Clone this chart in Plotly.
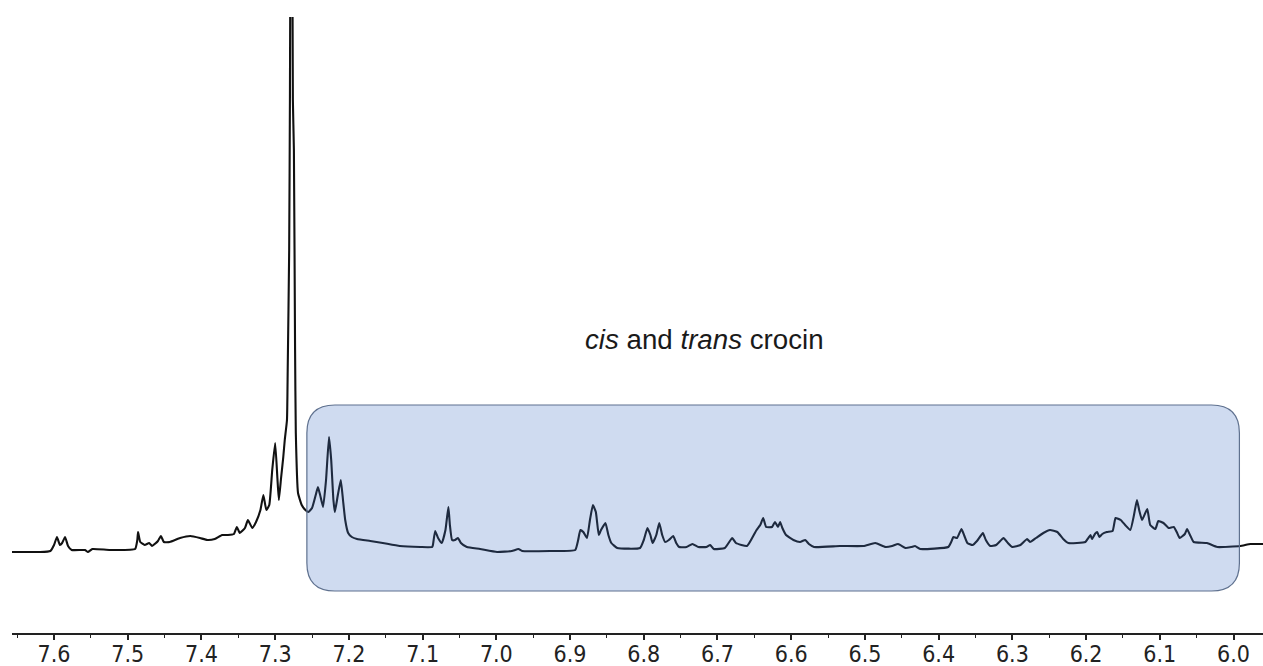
import plotly.graph_objects as go

# Chemical shift (ppm) and relative intensity
shift_ppm = [
    7.657, 7.619, 7.605, 7.600, 7.596, 7.592, 7.589, 7.585, 7.581, 7.576,
    7.558, 7.554, 7.548, 7.524, 7.490, 7.487, 7.486, 7.483, 7.477, 7.471,
    7.467, 7.459, 7.455, 7.451, 7.443, 7.429, 7.415, 7.402, 7.392, 7.382,
    7.372, 7.364, 7.356, 7.352, 7.348, 7.341, 7.337, 7.331, 7.326, 7.320,
    7.316, 7.312, 7.308, 7.304, 7.300, 7.297, 7.295, 7.292, 7.289, 7.287,
    7.284, 7.283, 7.281, 7.280, 7.278, 7.276, 7.2746, 7.273, 7.272, 7.269,
    7.264, 7.259, 7.255, 7.250, 7.245, 7.242, 7.239, 7.235, 7.231, 7.227,
    7.224, 7.221, 7.219, 7.215, 7.211, 7.208, 7.205, 7.201, 7.196, 7.189,
    7.171, 7.154, 7.131, 7.103, 7.087, 7.086, 7.083, 7.079, 7.074, 7.069,
    7.065, 7.063, 7.060, 7.056, 7.052, 7.048, 7.040, 7.022, 6.999, 6.979,
    6.970, 6.965, 6.927, 6.893, 6.889, 6.886, 6.882, 6.877, 6.873, 6.869,
    6.865, 6.861, 6.858, 6.852, 6.848, 6.844, 6.836, 6.805, 6.800, 6.795,
    6.791, 6.788, 6.783, 6.779, 6.775, 6.771, 6.766, 6.760, 6.756, 6.752,
    6.742, 6.734, 6.726, 6.715, 6.710, 6.705, 6.690, 6.680, 6.675, 6.660,
    6.653, 6.647, 6.642, 6.638, 6.634, 6.626, 6.622, 6.618, 6.615, 6.612,
    6.607, 6.597, 6.588, 6.581, 6.576, 6.569, 6.534, 6.502, 6.486, 6.472,
    6.463, 6.455, 6.445, 6.437, 6.432, 6.425, 6.387, 6.383, 6.380, 6.375,
    6.369, 6.365, 6.361, 6.354, 6.348, 6.340, 6.336, 6.330, 6.322, 6.312,
    6.306, 6.300, 6.289, 6.280, 6.276, 6.268, 6.258, 6.249, 6.239, 6.231,
    6.224, 6.201, 6.197, 6.194, 6.192, 6.188, 6.185, 6.182, 6.178, 6.172,
    6.164, 6.160, 6.153, 6.147, 6.140, 6.135, 6.131, 6.128, 6.124, 6.117,
    6.113, 6.106, 6.102, 6.095, 6.088, 6.081, 6.077, 6.073, 6.066, 6.063,
    6.059, 6.054, 6.036, 6.022, 5.991, 5.977, 5.960,
]
intensity = [
    0, 0, 1, 7, 15, 7, 9, 15, 6, 2,
    2, 0, 3, 2, 3, 12, 20, 10, 7, 9,
    6, 11, 16, 10, 10, 14, 16, 14, 12, 13,
    17, 17, 18, 25, 19, 24, 32, 24, 30, 42,
    57, 42, 47, 82, 109, 74, 52, 74, 95, 112,
    132, 182, 302, 452, 900, 452, 402, 202, 119, 59,
    47, 42, 40, 44, 57, 65, 57, 45, 72, 115,
    92, 52, 40, 57, 72, 52, 32, 19, 15, 13,
    11, 9, 6, 5, 5, 7, 21, 14, 9, 22,
    45, 27, 12, 12, 14, 9, 5, 3, 0, 1,
    3, 1, 1, 2, 12, 22, 20, 14, 32, 47,
    40, 17, 22, 29, 17, 9, 4, 4, 12, 24,
    17, 9, 17, 29, 17, 10, 12, 16, 9, 5,
    5, 8, 5, 5, 7, 3, 4, 14, 9, 6,
    14, 22, 27, 34, 25, 25, 30, 25, 30, 24,
    17, 12, 10, 12, 8, 5, 6, 6, 9, 5,
    6, 8, 4, 5, 6, 3, 5, 10, 15, 14,
    23, 16, 9, 7, 11, 19, 12, 6, 7, 14,
    9, 5, 7, 13, 10, 14, 19, 22, 20, 13,
    9, 10, 14, 17, 13, 18, 20, 15, 18, 20,
    21, 34, 32, 27, 22, 37, 52, 42, 32, 43,
    27, 23, 31, 29, 24, 25, 20, 14, 18, 23,
    17, 10, 9, 5, 6, 8, 8,
]

tick_values = [7.6, 7.5, 7.4, 7.3, 7.2, 7.1, 7.0, 6.9, 6.8, 6.7, 6.6, 6.5, 6.4, 6.3, 6.2, 6.1, 6.0]
tick_labels = [f"{v:.1f}" for v in tick_values]

region_label = "<i>cis</i> and <i>trans</i> crocin"
region_ppm = [7.257, 5.992]      # highlighted region, left / right edge
region_int = [-39, 147]          # highlighted region, bottom / top

x_range = [7.657, 5.960]
y_range = [-81, 535]

fig = go.Figure()
fig.add_trace(go.Scatter(
    x=shift_ppm, y=intensity, mode="lines",
    line=dict(color="#111111", width=2.1, shape="spline", smoothing=0.4),
    hoverinfo="skip", showlegend=False,
))

# rounded rectangle (corner radius ~28 px); 1 ppm ~ 737 px, 1 intensity unit ~ 1 px
x0, x1 = region_ppm
y0, y1 = region_int
rx = 28 / 737.0
ry = 28.0
path = (
    f"M {x0 - rx},{y1} L {x1 + rx},{y1} Q {x1},{y1} {x1},{y1 - ry} "
    f"L {x1},{y0 + ry} Q {x1},{y0} {x1 + rx},{y0} "
    f"L {x0 - rx},{y0} Q {x0},{y0} {x0},{y0 + ry} "
    f"L {x0},{y1 - ry} Q {x0},{y1} {x0 - rx},{y1} Z"
)
fig.add_shape(
    type="path", path=path, xref="x", yref="y",
    fillcolor="rgba(68,114,196,0.26)",
    line=dict(color="#5f718f", width=1.2),
    layer="above",
)

fig.add_annotation(
    x=6.718, y=213, xref="x", yref="y", text=region_label, showarrow=False,
    font=dict(family="Liberation Sans, Arial, sans-serif", size=27.7, color="#1a1a1a"),
)

fig.update_layout(
    width=1263, height=666,
    margin=dict(l=12, r=0, t=17, b=33),
    paper_bgcolor="white", plot_bgcolor="white",
    xaxis=dict(
        range=x_range, showgrid=False, zeroline=False,
        showline=True, linecolor="#222222", linewidth=2,
        ticks="outside", ticklen=5, tickwidth=1.5, tickcolor="#222222",
        tickvals=tick_values, ticktext=tick_labels,
        tickfont=dict(family="DejaVu Sans Condensed, DejaVu Sans, Verdana, sans-serif",
                      size=23, color="#222222"),
        ticklabelstandoff=-6,
        minor=dict(dtick=0.05, tick0=6.0, ticks="outside", ticklen=3, tickwidth=1.2, tickcolor="#222222"),
    ),
    yaxis=dict(range=y_range, visible=False, showgrid=False, zeroline=False),
)

# remove the default page margin so the figure fills the window exactly
fig.write_html(
    "out.html",
    config={"displayModeBar": False},
    post_script="document.body.style.margin='0px';document.body.style.overflow='hidden';",
)
